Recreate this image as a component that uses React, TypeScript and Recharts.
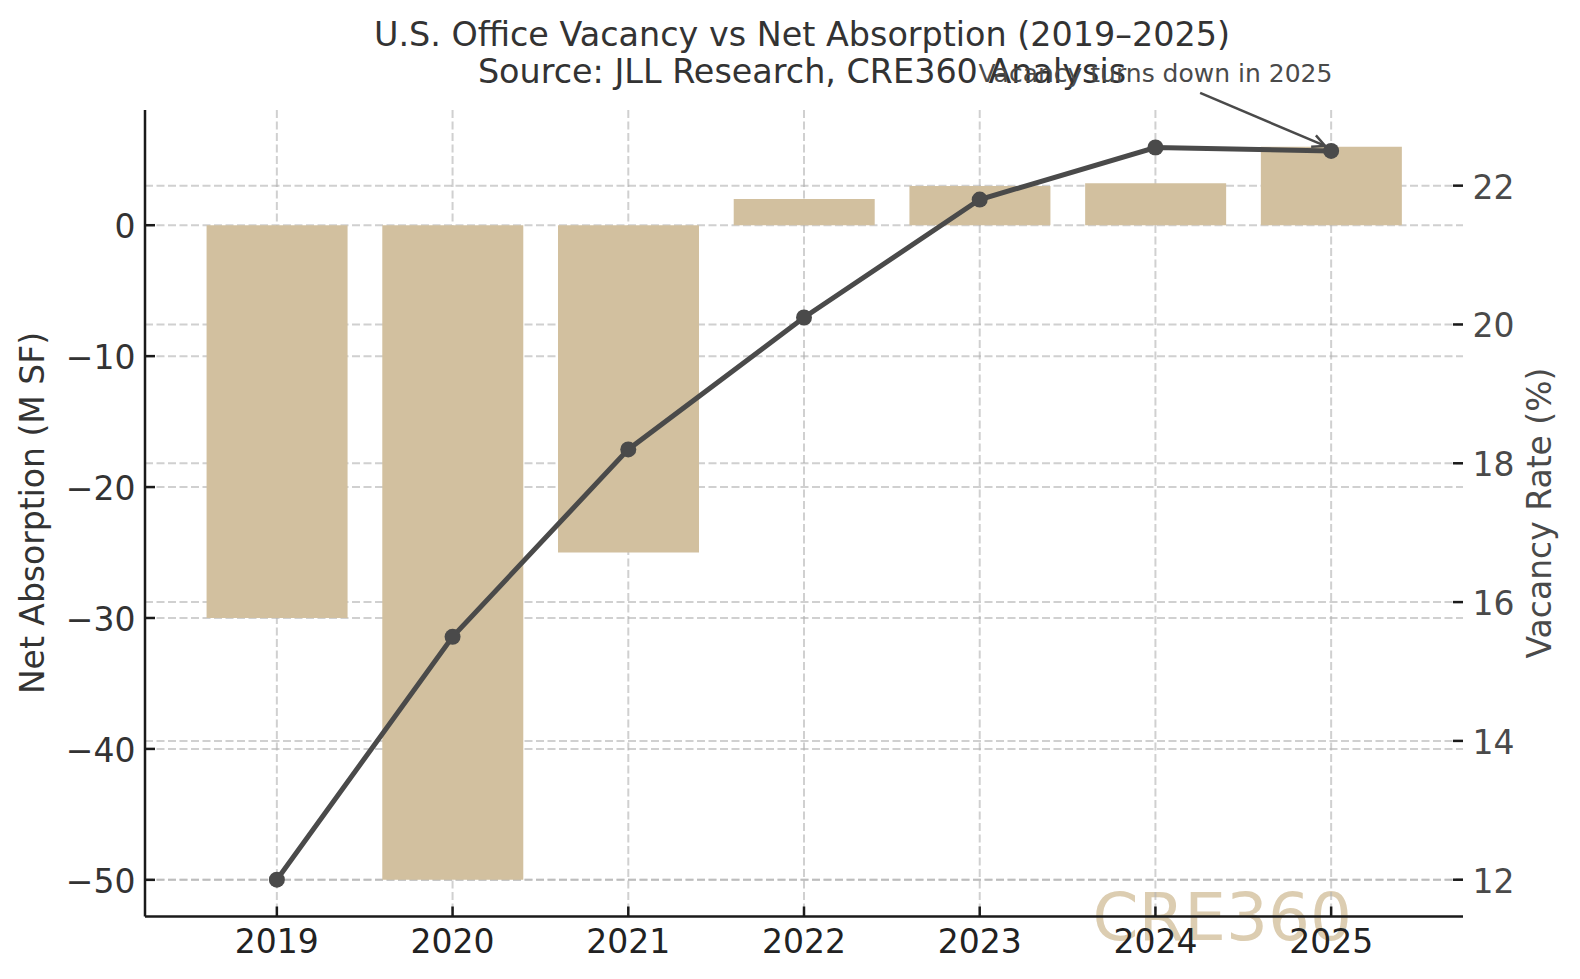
import React from 'react';
import { ComposedChart, Bar, Line, XAxis, YAxis, CartesianGrid, ReferenceDot } from 'recharts';

// Net absorption (M SF) bars and vacancy rate (%) line, 2019-2025
const years = ['2019', '2020', '2021', '2022', '2023', '2024', '2025'];
const netAbsorption = [-30, -50, -25, 2, 3, 3.2, 6];
const vacancyRate = [12.0, 15.5, 18.2, 20.1, 21.8, 22.55, 22.5];
const absorptionTicks = [-50, -40, -30, -20, -10, 0];
const vacancyTicks = [12, 14, 16, 18, 20, 22];

const title = 'U.S. Office Vacancy vs Net Absorption (2019\u20132025)';
const subtitle = 'Source: JLL Research, CRE360 Analysis';
const leftLabel = 'Net Absorption (M SF)';
const rightLabel = 'Vacancy Rate (%)';
const annotationText = 'Vacancy turns down in 2025';
const annotationTextYear = '2024';
const annotationTextLevel = 23.5;
const annotationTargetYear = '2025';
const annotationTargetLevel = 22.5;
const watermark = 'CRE360';

const data = years.map((year, i) => ({
  year,
  absorption: netAbsorption[i],
  vacancy: vacancyRate[i],
}));

const FONT = '"DejaVu Sans", sans-serif';
const BAR = '#d2c09f';
const LINE = '#4a4a4a';
const SPINE = '#1a1a1a';

const fmt = (v: number) => (v < 0 ? '\u2212' + Math.abs(v) : String(v));

const LeftTick = (props: any) => {
  const { x, y, payload } = props;
  return (
    <g>
      <line x1={x} x2={x + 10} y1={y} y2={y} stroke={SPINE} strokeWidth={2.5} />
      <text x={x - 9.5} y={y + 13} textAnchor="end" fontSize={33} fontFamily={FONT} fill="#333">
        {fmt(payload.value)}
      </text>
    </g>
  );
};

const RightTick = (props: any) => {
  const { x, y, payload } = props;
  return (
    <g>
      <line x1={x - 10} x2={x} y1={y} y2={y} stroke={SPINE} strokeWidth={2.5} />
      <text x={x + 9.5} y={y + 13} textAnchor="start" fontSize={33} fontFamily={FONT} fill={LINE}>
        {payload.value}
      </text>
    </g>
  );
};

const BottomTick = (props: any) => {
  const { x, y, payload } = props;
  return (
    <g>
      <line x1={x} x2={x} y1={y - 10} y2={y} stroke={SPINE} strokeWidth={2.5} />
      <text x={x} y={y + 36.5} textAnchor="middle" fontSize={33} fontFamily={FONT} fill="#222">
        {payload.value}
      </text>
    </g>
  );
};

const AnnotationText = (props: any) => {
  const { cx, cy } = props;
  return (
    <text x={cx} y={cy} textAnchor="middle" fontSize={25} fontFamily={FONT} fill={LINE}>
      {annotationText}
    </text>
  );
};

const AnnotationArrow = (props: any) => {
  const { cx, cy } = props;
  const x1 = cx - 131;
  const y1 = cy - 58;
  const x2 = cx - 6;
  const y2 = cy - 5;
  const ang = Math.atan2(y2 - y1, x2 - x1);
  const head = 14;
  const spread = 0.45;
  const ax = x2 - head * Math.cos(ang - spread);
  const ay = y2 - head * Math.sin(ang - spread);
  const bx = x2 - head * Math.cos(ang + spread);
  const by = y2 - head * Math.sin(ang + spread);
  return (
    <g>
      <line x1={x1} y1={y1} x2={x2} y2={y2} stroke={LINE} strokeWidth={2.5} />
      <path d={`M${ax},${ay} L${x2},${y2} L${bx},${by}`} fill="none" stroke={LINE} strokeWidth={2.5} />
    </g>
  );
};

export default function App() {
  return (
    <div style={{ position: 'absolute', left: 0, top: 0, width: 1580, height: 979, background: '#fff' }}>
      <svg width={1580} height={979} style={{ position: 'absolute', left: 0, top: 0 }}>
        <text x={802} y={45.7} textAnchor="middle" fontSize={33.4} fontFamily={FONT} fill="#333">
          {title}
        </text>
        <text x={802} y={83.3} textAnchor="middle" fontSize={33.4} fontFamily={FONT} fill="#333">
          {subtitle}
        </text>
        <text transform="translate(44,513) rotate(-90)" textAnchor="middle" fontSize={33} fontFamily={FONT} fill="#333">
          {leftLabel}
        </text>
        <text transform="translate(1551,513) rotate(-90)" textAnchor="middle" fontSize={33} fontFamily={FONT} fill={LINE}>
          {rightLabel}
        </text>
        <text x={1352} y={940} textAnchor="end" fontSize={66} fontFamily={FONT} fill="#dccdb1">
          {watermark}
        </text>
      </svg>
      <div style={{ position: 'absolute', left: 0, top: 0 }}>
        <ComposedChart
          width={1580}
          height={979}
          data={data}
          margin={{ top: 110, right: 0, bottom: 0, left: 0 }}
          barCategoryGap="10%"
        >
          <XAxis
            dataKey="year"
            height={62.5}
            padding={{ left: 44, right: 44 }}
            interval={0}
            axisLine={{ stroke: SPINE, strokeWidth: 2.5 }}
            tickLine={false}
            tickSize={0}
            tickMargin={0}
            tick={<BottomTick />}
          />
          <YAxis
            yAxisId="left"
            width={145}
            domain={[-52.8, 8.8]}
            ticks={absorptionTicks}
            axisLine={{ stroke: SPINE, strokeWidth: 2.5 }}
            tickLine={false}
            tickSize={0}
            tickMargin={0}
            tick={<LeftTick />}
          />
          <YAxis
            yAxisId="right"
            orientation="right"
            width={117}
            domain={[11.47, 23.09]}
            ticks={vacancyTicks}
            axisLine={false}
            tickLine={false}
            tickSize={0}
            tickMargin={0}
            tick={<RightTick />}
          />
          <Bar yAxisId="left" dataKey="absorption" fill={BAR} isAnimationActive={false} />
          <CartesianGrid
            yAxisId="left"
            syncWithTicks
            stroke="#b0b0b0"
            strokeOpacity={0.6}
            strokeWidth={2}
            strokeDasharray="8 3.5"
          />
          <CartesianGrid
            yAxisId="right"
            syncWithTicks
            vertical={false}
            stroke="#b0b0b0"
            strokeOpacity={0.6}
            strokeWidth={2}
            strokeDasharray="8 3.5"
          />
          <Line
            yAxisId="right"
            type="linear"
            dataKey="vacancy"
            stroke={LINE}
            strokeWidth={5}
            dot={{ r: 8, fill: LINE, stroke: LINE, strokeWidth: 0 }}
            activeDot={false}
            isAnimationActive={false}
          />
          <ReferenceDot
            yAxisId="right"
            x={annotationTextYear}
            y={annotationTextLevel}
            r={0}
            ifOverflow="visible"
            shape={<AnnotationText />}
          />
          <ReferenceDot
            yAxisId="right"
            x={annotationTargetYear}
            y={annotationTargetLevel}
            r={0}
            ifOverflow="visible"
            shape={<AnnotationArrow />}
          />
        </ComposedChart>
      </div>
    </div>
  );
}
